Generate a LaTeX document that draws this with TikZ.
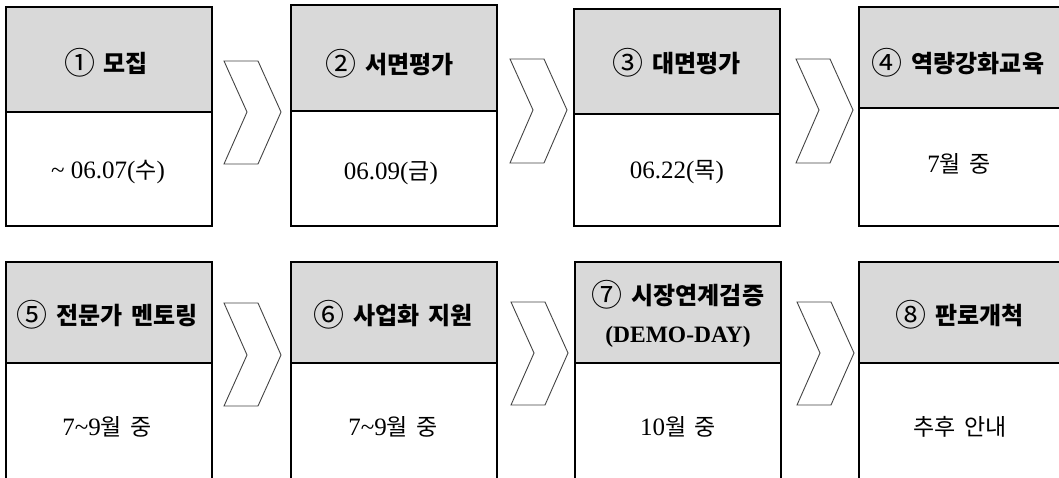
\documentclass[tikz,border=0pt]{standalone}
\usepackage{fontspec}
\setmainfont{Liberation Serif}
\newfontfamily\kr{Noto Sans CJK KR}[WordSpace=1.6]
\newcommand\ko[1]{{\fontsize{23}{28}\selectfont\kr #1}}
\newcommand\cnum[1]{{\fontsize{31}{31}\selectfont\mdseries\raisebox{-2.6pt}{#1}}}
\definecolor{hdrgray}{HTML}{D9D9D9}
\definecolor{chevline}{HTML}{444444}
\tikzset{
  hdrbox/.style={draw=black, fill=hdrgray, line width=1.2pt},
  bodybox/.style={draw=black, fill=white, line width=1.2pt},
  chev/.style={draw=chevline, fill=white, line width=0.9pt, line join=miter},
  hdrtext/.style={font=\fontsize{24}{28}\selectfont\kr\bfseries, align=center, inner sep=0pt},
  bodytext/.style={font=\fontsize{25}{28}\selectfont, align=center, inner sep=0pt},
}
% #1 name, #2 left x, #3 top y, #4 divider y, #5 bottom y
\newcommand\stepframe[5]{%
  \path[hdrbox] (#2,#3) rectangle (#2+206,#4);
  \path[bodybox] (#2,#4) rectangle (#2+206,#5);
  \coordinate (#1) at (#2+103,#3);
}
% chevron: #1 left x, #2 top y, #3 mid y, #4 bottom y
\newcommand\chevron[4]{%
  \path[chev] (#1,#2) -- (#1+34,#2) -- (#1+57,#3) -- (#1+34,#4) -- (#1,#4) -- (#1+23,#3) -- cycle;
}
\begin{document}
\begin{tikzpicture}[x=1pt,y=-1pt]
\useasboundingbox (0,0) rectangle (1059,478);
% row 1
\stepframe{s1}{6}{7}{112}{226}
\stepframe{s2}{291}{5}{111}{226}
\stepframe{s3}{574}{9}{114}{226}
\stepframe{s4}{859}{7}{108}{226}
\chevron{224}{61}{112}{164}
\chevron{510}{59}{110}{163}
\chevron{796}{59}{110}{163}
% row 2
\stepframe{s5}{6}{262}{363}{495}
\stepframe{s6}{291}{262}{363}{495}
\stepframe{s7}{575}{262}{363}{495}
\stepframe{s8}{859}{262}{363}{495}
\chevron{224}{303}{355}{406}
\chevron{511}{302}{353}{405}
\chevron{797}{302}{353}{405}
% texts row 1
\node[hdrtext] (h1) at (106,63) {\cnum{①} 모집};
\node[bodytext] (b1) at (108,172) {\textasciitilde{} 06.07(\ko{수})};
\node[hdrtext] (h2) at (390,64) {\cnum{②} 서면평가};
\node[bodytext] (b2) at (391,173) {06.09(\ko{금})};
\node[hdrtext] (h3) at (677,63) {\cnum{③} 대면평가};
\node[bodytext] (b3) at (677,172) {06.22(\ko{목})};
\node[hdrtext] (h4) at (958,63) {\cnum{④} 역량강화교육};
\node[bodytext] (b4) at (959,164) {7\ko{월 중}};
% texts row 2
\node[hdrtext] (h5) at (107,315) {\cnum{⑤} 전문가 멘토링};
\node[bodytext] (b5) at (107,427) {7\textasciitilde9\ko{월 중}};
\node[hdrtext] (h6) at (393,315) {\cnum{⑥} 사업화 지원};
\node[bodytext] (b6) at (393,427) {7\textasciitilde9\ko{월 중}};
\node[hdrtext] (h7) at (678,295) {\cnum{⑦} 시장연계검증};
\node[hdrtext, font=\fontsize{23.5}{27}\selectfont\bfseries] (h7b) at (678,337) {(DEMO-DAY)};
\node[bodytext] (b7) at (678,427) {10\ko{월 중}};
\node[hdrtext] (h8) at (960,315) {\cnum{⑧} 판로개척};
\node[bodytext] (b8) at (960,427) {\ko{추후 안내}};
\end{tikzpicture}
\end{document}
